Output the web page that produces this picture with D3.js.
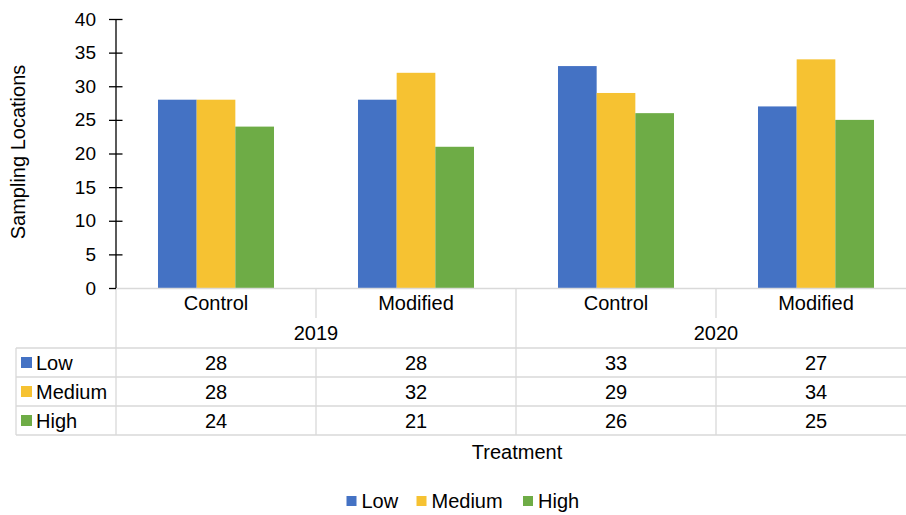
<!DOCTYPE html>
<html>
<head>
<meta charset="utf-8">
<script src="https://cdn.jsdelivr.net/npm/d3@7/dist/d3.min.js"></script>
<style>
  html, body { margin: 0; padding: 0; background: #fff; }
  svg { display: block; font-family: "Liberation Sans", Arial, sans-serif; }
</style>
</head>
<body>
<svg id="chart" width="906" height="515"></svg>
<script>
// Data
const years = ["2019", "2020"];
const treatments = ["Control", "Modified"];
const categories = [
  { year: "2019", treatment: "Control" },
  { year: "2019", treatment: "Modified" },
  { year: "2020", treatment: "Control" },
  { year: "2020", treatment: "Modified" }
];
const seriesNames = ["Low", "Medium", "High"];
const lowValues = [28, 28, 33, 27];
const mediumValues = [28, 32, 29, 34];
const highValues = [24, 21, 26, 25];
const yTicks = [0, 5, 10, 15, 20, 25, 30, 35, 40];

const seriesValues = [lowValues, mediumValues, highValues];
const colors = ["#4472C4", "#F6C232", "#6EAC46"];
const gridGray = "#d9d9d9";
const fontSize = 20;

const svg = d3.select("#chart");

const plotLeft = 116, plotRight = 916, plotTop = 19, plotBottom = 288;
const catKeys = categories.map((c, i) => i);

const x = d3.scaleBand().domain(catKeys).range([plotLeft, plotRight]).paddingInner(0).paddingOuter(0);
const xs = d3.scaleBand().domain(seriesNames).range([0, x.bandwidth()]).paddingInner(0).paddingOuter(1.086);
const y = d3.scaleLinear().domain([0, 40]).range([plotBottom, plotTop]);

// Bars
const groups = svg.append("g").selectAll("g")
  .data(catKeys).join("g")
  .attr("transform", i => `translate(${x(i)},0)`);
groups.selectAll("rect")
  .data(i => seriesNames.map((s, k) => ({ s, k, v: seriesValues[k][i] })))
  .join("rect")
  .attr("x", d => xs(d.s))
  .attr("width", xs.bandwidth())
  .attr("y", d => y(d.v))
  .attr("height", d => y(0) - y(d.v))
  .attr("fill", d => colors[d.k]);

// Data table grid
const rowTop = 348, rowH = 29, tableLeft = 16;
const grid = svg.append("g").attr("stroke", gridGray).attr("stroke-width", 1.3).attr("fill", "none");
grid.append("line").attr("x1", plotLeft).attr("x2", plotRight).attr("y1", plotBottom + 0.5).attr("y2", plotBottom + 0.5);
catKeys.forEach(i => {
  if (i === 0) return;
  const xx = x(i);
  const full = (i % 2 === 0);
  grid.append("line").attr("x1", xx).attr("x2", xx)
    .attr("y1", plotBottom).attr("y2", full ? rowTop + rowH * 3 : 318);
  if (!full) {
    grid.append("line").attr("x1", xx).attr("x2", xx)
      .attr("y1", rowTop).attr("y2", rowTop + rowH * 3);
  }
});
grid.append("line").attr("x1", plotLeft).attr("x2", plotLeft).attr("y1", plotBottom).attr("y2", rowTop + rowH * 3);
grid.append("line").attr("x1", tableLeft).attr("x2", tableLeft).attr("y1", rowTop).attr("y2", rowTop + rowH * 3);
for (let r = 0; r <= 3; r++) {
  grid.append("line").attr("x1", tableLeft).attr("x2", plotRight)
    .attr("y1", rowTop + r * rowH).attr("y2", rowTop + r * rowH);
}

// Y axis
const yAxis = d3.axisLeft(y).tickValues(yTicks).tickSize(7).tickPadding(13);
const yg = svg.append("g").attr("transform", `translate(${plotLeft},0)`).call(yAxis);
yg.select(".domain").attr("stroke", "#000").attr("stroke-width", 1.3).attr("d", `M0,${plotTop}V${plotBottom}`);
yg.selectAll(".tick line").attr("stroke", "#000").attr("stroke-width", 1.3)
  .attr("x1", d => d === 0 ? 0 : 6.5).attr("x2", -7);
yg.selectAll(".tick text").attr("font-size", 19).attr("fill", "#000")
  .attr("font-family", "Liberation Sans, Arial, sans-serif");

// Category labels
const txt = svg.append("g").attr("font-size", fontSize).attr("fill", "#000").attr("text-anchor", "middle");
catKeys.forEach(i => {
  txt.append("text").attr("x", x(i) + x.bandwidth() / 2).attr("y", 310).text(categories[i].treatment);
});
years.forEach((yr, j) => {
  const cx = (x(j * 2) + x(j * 2 + 1) + x.bandwidth()) / 2;
  txt.append("text").attr("x", cx).attr("y", 340).text(yr);
});

// Table rows
seriesNames.forEach((s, k) => {
  const ry = rowTop + k * rowH;
  svg.append("rect").attr("x", 21).attr("y", ry + 9).attr("width", 11).attr("height", 11).attr("fill", colors[k]);
  svg.append("text").attr("x", 36).attr("y", ry + 21.5).attr("font-size", fontSize).text(s);
  catKeys.forEach(i => {
    txt.append("text").attr("x", x(i) + x.bandwidth() / 2).attr("y", ry + 21.5).text(seriesValues[k][i]);
  });
});

// Axis titles
svg.append("text").attr("transform", "translate(25,152) rotate(-90)")
  .attr("text-anchor", "middle").attr("font-size", fontSize).text("Sampling Locations");
svg.append("text").attr("x", 517).attr("y", 459).attr("text-anchor", "middle")
  .attr("font-size", fontSize).text("Treatment");

// Legend
const legendX = [346.5, 416.5, 523];
seriesNames.forEach((s, k) => {
  svg.append("rect").attr("x", legendX[k]).attr("y", 496).attr("width", 10).attr("height", 10).attr("fill", colors[k]);
  svg.append("text").attr("x", legendX[k] + 15).attr("y", 507.5).attr("font-size", fontSize).text(s);
});
</script>
</body>
</html>
